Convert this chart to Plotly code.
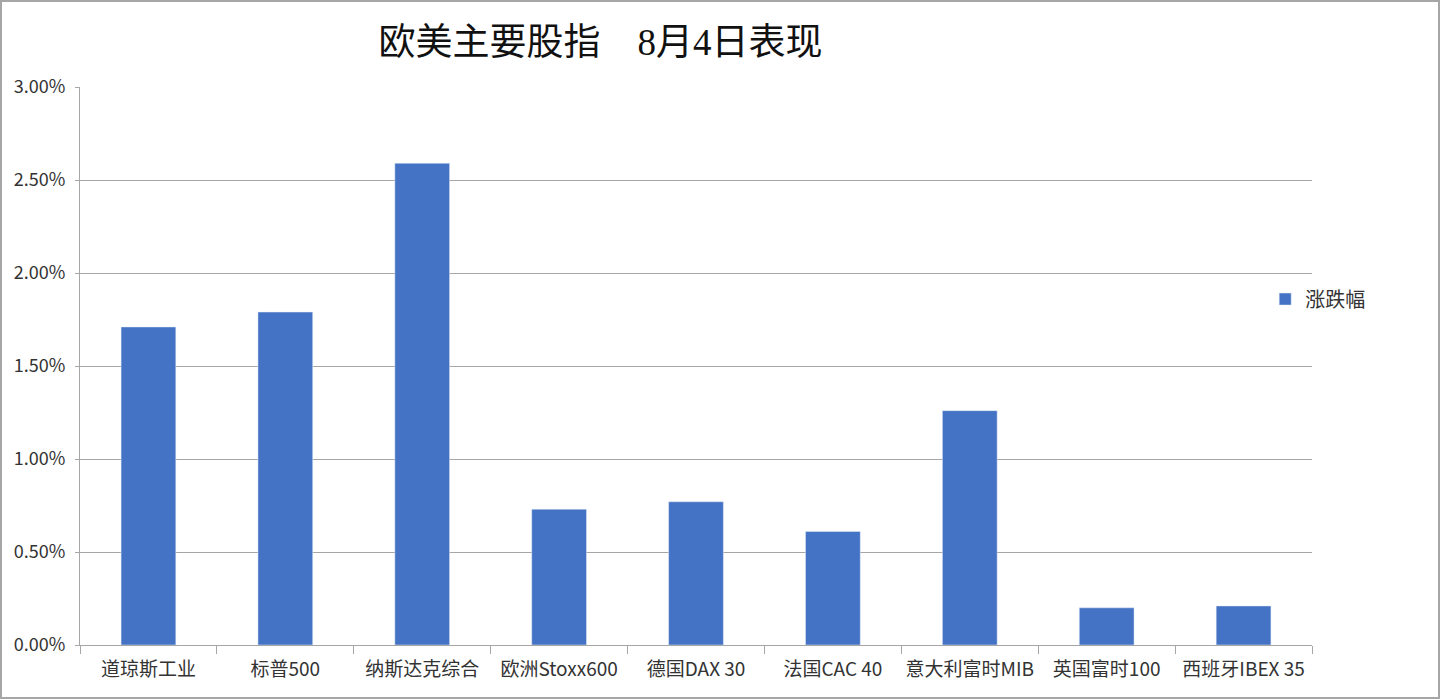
import plotly.graph_objects as go

categories = ['道琼斯工业', '标普500', '纳斯达克综合', '欧洲Stoxx600', '德国DAX 30',
              '法国CAC 40', '意大利富时MIB', '英国富时100', '西班牙IBEX 35']
changes = [0.0171, 0.0179, 0.0259, 0.0073, 0.0077, 0.0061, 0.0126, 0.0020, 0.0021]
y_ticks = [0, 0.005, 0.01, 0.015, 0.02, 0.025, 0.03]

font_cn = 'Noto Sans CJK SC'

fig = go.Figure(go.Bar(
    x=categories, y=changes, name='涨跌幅',
    marker_color='#4472C4', width=0.4,
))

fig.update_layout(
    width=1440, height=699,
    margin=dict(l=80, r=128, t=87, b=54, autoexpand=False),
    paper_bgcolor='white', plot_bgcolor='white',
    title=dict(text='欧美主要股指　8月4日表现', x=0.417, xanchor='center', y=0.94, yanchor='middle',
               font=dict(family='Liberation Serif, ' + font_cn, size=37, color='#111')),
    showlegend=True,
    legend=dict(x=0.962, y=0.62, xanchor='left', yanchor='middle', itemwidth=30,
                font=dict(family=font_cn, size=20, color='#333')),
    font=dict(family=font_cn, color='#333'),
)
fig.update_xaxes(
    showline=True, linecolor='#a6a6a6', linewidth=1,
    ticks='outside', tickson='boundaries', ticklen=8, tickcolor='#a6a6a6',
    tickfont=dict(size=19, color='#333'), ticklabelstandoff=7,
    tickangle=0, automargin=False,
)
fig.update_yaxes(
    range=[0, 0.03], tickvals=y_ticks, tickformat='.2%',
    showline=True, linecolor='#a6a6a6', linewidth=1,
    showgrid=True, gridcolor='#a6a6a6', gridwidth=1,
    ticks='outside', ticklen=4, tickcolor='#a6a6a6',
    tickfont=dict(size=18, color='#333'), zeroline=False, ticklabelstandoff=6,
    automargin=False,
)
# image border
fig.add_shape(type='rect', xref='paper', yref='paper',
              x0=-79 / 1232, x1=1359 / 1232, y0=-53 / 558, y1=644 / 558,
              line=dict(color='#a6a6a6', width=2))

fig.write_html('out.html', config={'displayModeBar': False},
               post_script="document.body.style.margin='0';")
